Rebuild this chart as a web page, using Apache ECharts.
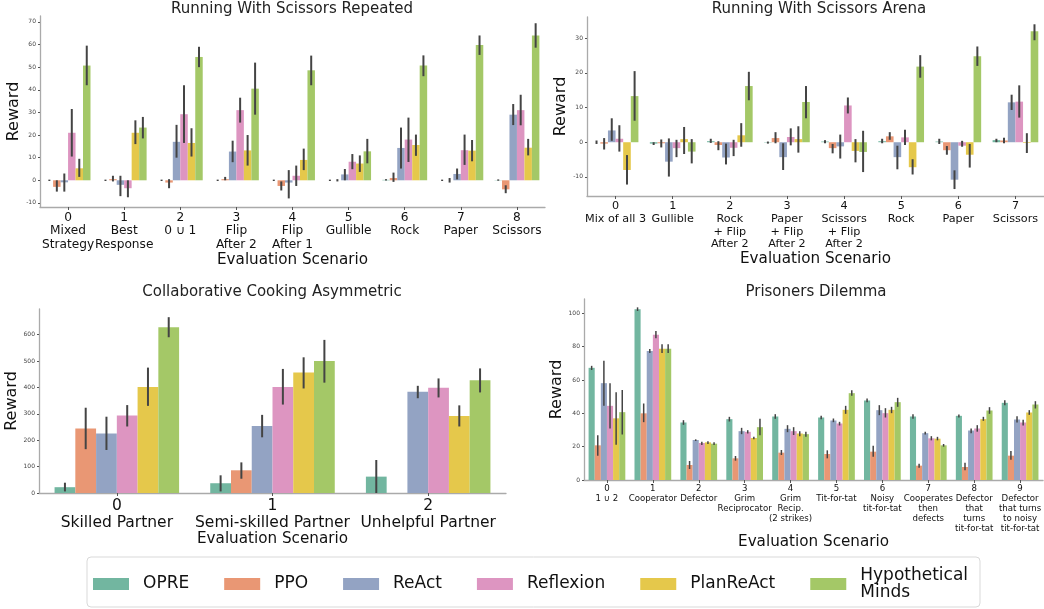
<!DOCTYPE html>
<html><head><meta charset="utf-8">
<script src="https://cdn.jsdelivr.net/npm/echarts@6/dist/echarts.min.js"></script>
<style>html,body{margin:0;padding:0;background:#fff}#c{width:1044px;height:609px}</style>
</head><body><div id="c"></div>
<script>
const methods = ['OPRE','PPO','ReAct','Reflexion','PlanReAct','Hypothetical Minds'];
const colors = ['#72b6a0','#e99774','#93a3c3','#dd95c1','#e5c84b','#a4c867'];

// Running With Scissors Repeated
const rwsRepCats = ['0\nMixed\nStrategy','1\nBest\nResponse','2\n0 ∪ 1','3\nFlip\nAfter 2','4\nFlip\nAfter 1','5\nGullible','6\nRock','7\nPaper','8\nScissors'];
const rwsRepMean = [
  [0,0,0,0,0,0,0.2,0,0.1],
  [-2.9,0.5,-1,0.5,-2.5,0,1,0,-4],
  [-0.9,-2,17,12.7,-1,2.6,14.3,2.8,29],
  [21,-3.5,29.2,31,2,8.2,18,13.3,31],
  [5.3,21,16.5,13.2,9,7.4,15.6,13.1,14.4],
  [50.7,23.3,54.5,40.5,48.6,12.8,50.7,59.8,64]
];
const rwsRepLo = [
  [-0.3,-0.3,-0.3,-0.3,-0.3,-0.3,-0.1,-0.3,-0.2],
  [-5,-0.5,-3.5,0,-4.5,-0.5,-0.7,-1,-5.7],
  [-5,-7,10,8,-8,0,5.2,0.4,24.4],
  [10.5,-7.5,16.5,25.5,-2.5,4.9,8.1,6.8,24.3],
  [1.5,16,10.5,6.5,4.5,3.7,10.8,8.4,11],
  [42,18.5,50,29,42,7.5,46,55.4,58.6]
];
const rwsRepHi = [
  [0.3,0.3,0.3,0.3,0.3,0.3,0.5,0.3,0.4],
  [0,2,0.5,1.5,-0.5,0.5,3.4,1,-2.2],
  [3,2,24.5,17.5,4.5,5,23.3,5.2,33.7],
  [31.5,0,42,36.5,6.5,11.6,27.7,20.2,37.8],
  [9.5,26.5,23,20,14,11,20.2,17.8,18.3],
  [59.5,28,59,52,55.1,18.3,55.2,64,69.4]
];
const rwsRepTicks = [-10,0,10,20,30,40,50,60,70];

// Running With Scissors Arena
const rwsArenaCats = ['0\nMix of all 3','1\nGullible','2\nRock\n+ Flip\nAfter 2','3\nPaper\n+ Flip\nAfter 2','4\nScissors\n+ Flip\nAfter 2','5\nRock','6\nPaper','7\nScissors'];
const rwsArenaMean = [
  [0,-0.4,0.3,-0.1,0.2,0.3,0.2,0.6],
  [-0.4,-0.3,-0.8,1.2,-1.7,1.7,-2.3,0.5],
  [3.4,-5.6,-4.4,-4.3,-1.2,-4.3,-10.8,11.5],
  [1,-1.7,-1.6,1.5,10.6,1.4,-1,11.7],
  [-8,0.9,2,0.9,-2.5,-7.2,-3.6,-0.2],
  [13.3,-2.7,16.2,11.6,-2.8,21.8,24.8,32]
];
const rwsArenaLo = [
  [-0.5,-0.8,-0.2,-0.4,-0.3,-0.3,-0.5,0],
  [-2.1,-1.5,-2.3,-0.3,-3.2,0.7,-3.6,-0.3],
  [0.4,-9.9,-6.4,-8,-4.7,-7.8,-13.5,9.3],
  [-2.7,-4.3,-4,-0.9,8.3,-0.8,-1.3,7.1],
  [-12.2,-3.4,-1.3,-3,-5.8,-9.3,-7.3,-3.1],
  [6.2,-6.1,12.1,6.9,-8.6,18.6,22,29.4]
];
const rwsArenaHi = [
  [0.5,0,1,0.2,0.6,1,1,1],
  [1.2,0.8,0.3,2.9,-0.5,2.9,-1.1,1.3],
  [6.9,1.1,-0.4,-0.3,2.2,-1,-8.1,13.7],
  [4.9,0.7,0.7,4,12.9,3.6,0.4,16.4],
  [-3.7,4.4,5.5,4.6,0.9,-4.9,-0.5,2.6],
  [20.5,0.9,20.3,16.2,3.3,25.1,27.6,34]
];
const rwsArenaTicks = [-10,0,10,20,30];

// Collaborative Cooking Asymmetric
const cookCats = ['0\nSkilled Partner','1\nSemi-skilled Partner','2\nUnhelpful Partner'];
const cookMean = [
  [22,37,62],
  [244,86,0],
  [225,254,383.5],
  [294,402,399],
  [402,456,292],
  [628,500,427]
];
const cookLo = [
  [6,6,0],
  [166,54,0],
  [163,211,359],
  [252,335,362],
  [330,396,252],
  [590,418,381]
];
const cookHi = [
  [39,67,125],
  [323,116,0],
  [289,296,406],
  [333,470,434],
  [475,514,332],
  [666,580,472]
];
const cookTicks = [0,100,200,300,400,500,600];

// Prisoners Dilemma
const pdCats = ['0\n1 ∪ 2','1\nCooperator','2\nDefector','3\nGrim\nReciprocator','4\nGrim\nRecip.\n(2 strikes)','5\nTit-for-tat','6\nNoisy\ntit-for-tat','7\nCooperates\nthen\ndefects','8\nDefector\nthat\nturns\ntit-for-tat','9\nDefector\nthat turns\nto noisy\ntit-for-tat'];
const pdMean = [
  [67.3,102.4,34.5,36.5,38.1,37.5,47.7,38.1,38.5,46.3],
  [20.8,40,9,13,16.4,15.6,17,8.6,7.8,14.6],
  [58.1,77.4,24,29.3,30.7,35.7,41.9,28.1,29.7,36.3],
  [44.5,87.2,22.2,28.9,29.3,33.9,40.1,25,30.9,34.5],
  [37,78.8,22.6,25.2,27.9,42.1,42.1,24.8,36.5,40.5],
  [40.7,78.8,21.8,31.7,27.5,52.1,46.7,20.8,41.7,45.3]
];
const pdLo = [
  [66,101.4,33.1,35.1,36.7,36.5,46.7,36.7,37.5,44.9],
  [14.6,34.7,6.6,11.6,15,13,14,7.4,5.8,12.2],
  [44.5,76.2,23.4,27.5,28.7,34.7,38.9,27.3,28.1,34.5],
  [30.9,85,21,27.9,27,32.7,37.5,23.8,29,32.7],
  [21.2,76.2,21.6,24.4,26.3,39.7,40.1,23.8,35.5,39.1],
  [27.3,76.2,21,26.9,25.9,50.5,43.9,20,39.7,42.9]
];
const pdHi = [
  [68.5,103.6,35.9,37.9,39.5,38.5,48.9,39.5,39.3,47.9],
  [26.9,45.9,11.4,14.4,18,17.8,20.6,9.8,10.4,17.4],
  [71.5,78.6,24.4,31.3,32.9,36.9,44.9,29,30.9,38.3],
  [58,89.4,23,29.9,31.7,34.9,43.1,26.3,32.9,36.1],
  [52.7,81.4,23.2,26,29.3,44.5,43.9,25.9,37.9,41.9],
  [54,81.4,22.6,36.7,29,53.9,49.3,21.6,43.7,47.3]
];
const pdTicks = [0,20,40,60,80,100];

const panels = [
  {title:'Running With Scissors Repeated', tx:292, ty:2, cats:rwsRepCats, mean:rwsRepMean, lo:rwsRepLo, hi:rwsRepHi, ticks:rwsRepTicks,
   grid:{left:40, top:16, width:505, height:191}, min:-11.8, max:72.6, catFont:12.2, catLH:13.5, nameGapX:42, nameGapY:14, errW:2},
  {title:'Running With Scissors Arena', tx:819, ty:2, cats:rwsArenaCats, mean:rwsArenaMean, lo:rwsArenaLo, hi:rwsArenaHi, ticks:rwsArenaTicks,
   grid:{left:587, top:17, width:464, height:179}, min:-15.5, max:36.1, catFont:11.2, catLH:12.7, nameGapX:53, nameGapY:16, errW:2},
  {title:'Collaborative Cooking Asymmetric', tx:272, ty:285, cats:cookCats, mean:cookMean, lo:cookLo, hi:cookHi, ticks:cookTicks,
   grid:{left:39, top:309, width:467, height:184}, min:0, max:697, catFont:15.5, catLH:17, nameGapX:35, nameGapY:13, errW:2},
  {title:'Prisoners Dilemma', tx:816, ty:285, cats:pdCats, mean:pdMean, lo:pdLo, hi:pdHi, ticks:pdTicks,
   grid:{left:584, top:299, width:464, height:181}, min:0, max:108.6, catFont:8.6, catLH:10, nameGapX:53, nameGapY:13, errW:1.5}
];

const option = {
  animation:false,
  backgroundColor:'#fff',
  textStyle:{fontFamily:'DejaVu Sans'},
  title:[], grid:[], xAxis:[], yAxis:[], series:[],
  legend:{
    data:methods, left:88, top:562, icon:'rect', itemWidth:36, itemHeight:12, itemGap:35,
    textStyle:{fontSize:17, color:'#111', padding:[0,0,0,9], fontFamily:'DejaVu Sans'},
    formatter: n => n === 'Hypothetical Minds' ? 'Hypothetical\nMinds' : n
  },
  graphic:[{type:'rect', shape:{x:87, y:557, width:893, height:50, r:4}, style:{fill:'none', stroke:'#d9d9d9', lineWidth:1}, z:-1}]
};

panels.forEach((p, gi) => {
  option.title.push({text:p.title, left:p.tx, top:p.ty, padding:0, textAlign:'center', textStyle:{fontSize:15, fontWeight:'normal', color:'#222'}});
  option.grid.push(p.grid);
  option.xAxis.push({
    gridIndex:gi, type:'category', data:p.cats,
    axisLine:{onZero:false, lineStyle:{color:'#aaa', width:1.3}},
    axisTick:{show:true, alignWithLabel:true, length:3, lineStyle:{color:'#555'}},
    axisLabel:{fontSize:p.catFont, lineHeight:p.catLH, color:'#111', margin:4, interval:0},
    name:'Evaluation Scenario', nameLocation:'middle', nameGap:p.nameGapX,
    nameTextStyle:{fontSize:15.2, color:'#111'}
  });
  option.yAxis.push({
    gridIndex:gi, type:'value', min:p.min, max:p.max,
    splitLine:{show:false},
    axisLine:{show:true, lineStyle:{color:'#aaa', width:1.3}},
    axisTick:{show:true, length:2, customValues:p.ticks, lineStyle:{color:'#555'}},
    axisLabel:{fontSize:6, color:'#444', margin:4, customValues:p.ticks},
    name:'Reward', nameLocation:'middle', nameGap:p.nameGapY,
    nameTextStyle:{fontSize:16, color:'#111'}
  });
  methods.forEach((m, mi) => {
    option.series.push({
      name:m, type:'bar', xAxisIndex:gi, yAxisIndex:gi,
      data:p.mean[mi], barGap:'0%', barCategoryGap:'20%',
      itemStyle:{color:colors[mi]}
    });
  });
  const errData = [];
  p.mean.forEach((row, mi) => row.forEach((v, ci) => errData.push([ci, mi, p.lo[mi][ci], p.hi[mi][ci]])));
  const lw = p.errW;
  option.series.push({
    type:'custom', xAxisIndex:gi, yAxisIndex:gi, z:10, silent:true,
    data:errData,
    renderItem:(params, api) => {
      const c = api.value(0), mi = api.value(1), lo = api.value(2), hi = api.value(3);
      if (hi === lo) return null;
      const p1 = api.coord([c, lo]);
      const p2 = api.coord([c, hi]);
      const band = api.size([1, 0])[0];
      const x = p1[0] + band * (-0.4 + 0.8 * (mi + 0.5) / 6);
      return {type:'line', shape:{x1:x, y1:p1[1], x2:x, y2:p2[1]}, style:{stroke:'#444', lineWidth:lw}};
    }
  });
});

const chart = echarts.init(document.getElementById('c'), null, {renderer:'canvas'});
chart.setOption(option);
</script></body></html>
